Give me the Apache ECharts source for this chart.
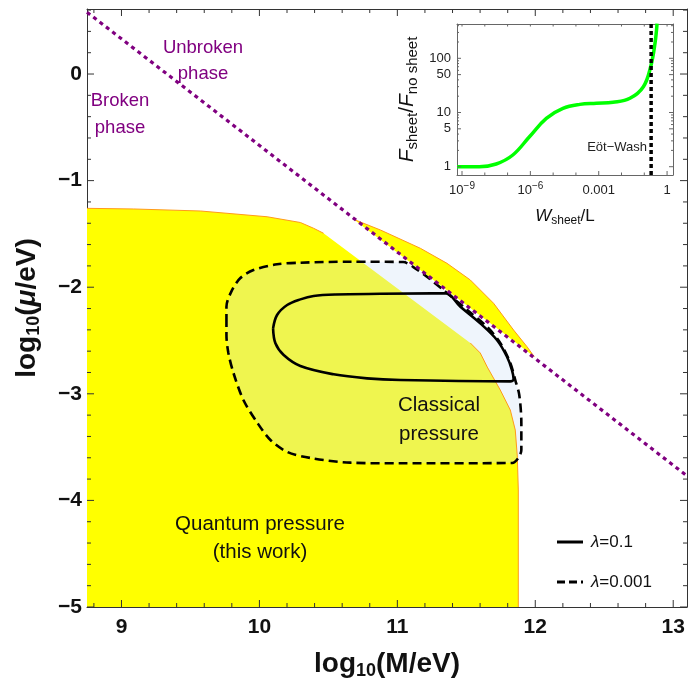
<!DOCTYPE html>
<html><head><meta charset="utf-8">
<script src="https://cdn.jsdelivr.net/npm/echarts@6/dist/echarts.min.js"></script>
<style>html,body{margin:0;padding:0;background:#fff}#c{width:688px;height:685px}</style>
</head><body><div id="c"></div>
<script>
// ---------------- data ----------------
const xTickValues = [9, 10, 11, 12, 13];
const yTickValues = [-5, -4, -3, -2, -1, 0];
const xRange = [8.75, 13.1];
const yRange = [-5, 0.61];

// broken / unbroken phase boundary (purple dotted)
const phaseBoundary = [[8.75, 0.58], [13.1, -3.77]];

// quantum-pressure region (yellow): top edge, then right edge
const quantumTopEdge = [[8.75, -1.260], [9.089, -1.266], [9.572, -1.285], [10.056, -1.339], [10.297, -1.393], [10.393, -1.447], [10.465, -1.494]];
const quantumRightEdge = [[11.529, -2.523], [11.601, -2.617], [11.652, -2.749], [11.746, -2.964], [11.819, -3.152], [11.855, -3.340], [11.870, -3.593], [11.877, -3.902], [11.877, -5.0]];
const quantumCorner = [8.75, -5.0];
// yellow sliver above the phase boundary (outer curve)
const sliverEdge = [[10.683, -1.363], [10.877, -1.463], [11.167, -1.635], [11.360, -1.776], [11.529, -1.932], [11.698, -2.151], [11.843, -2.402], [11.940, -2.558], [11.993, -2.652]];

// lambda = 0.001 contour (dashed)
const contourLambda0001 = [[9.761, -2.336], [9.761, -2.183], [9.802, -2.026], [9.862, -1.914], [9.957, -1.839], [10.128, -1.785], [10.297, -1.770], [10.659, -1.761], [11.043, -1.764], [11.116, -1.811], [11.217, -1.904], [11.333, -2.026], [11.507, -2.214], [11.652, -2.373], [11.746, -2.523], [11.819, -2.711], [11.855, -2.871], [11.884, -3.011], [11.899, -3.274], [11.899, -3.527], [11.877, -3.602], [11.833, -3.649], [11.022, -3.652], [10.659, -3.646], [10.370, -3.602], [10.203, -3.546], [10.080, -3.433], [9.986, -3.274], [9.884, -3.058], [9.812, -2.805], [9.775, -2.617], [9.761, -2.448], [9.761, -2.336]];
// lambda = 0.1 contour (solid)
const contourLambda01 = [[10.099, -2.386], [10.128, -2.261], [10.201, -2.167], [10.297, -2.114], [10.393, -2.082], [10.550, -2.068], [10.877, -2.062], [11.348, -2.057], [11.457, -2.183], [11.601, -2.339], [11.722, -2.495], [11.795, -2.652], [11.831, -2.777], [11.843, -2.864], [11.819, -2.883], [11.022, -2.871], [10.780, -2.855], [10.538, -2.817], [10.297, -2.739], [10.176, -2.636], [10.116, -2.526], [10.099, -2.386]];

// inset: log10(W_sheet/L) and log10(F_sheet/F_no sheet)
const insetLogW = [-9.22, -8.24, -7.50, -6.77, -6.04, -5.30, -4.57, -3.83, -3.10, -2.37, -1.63, -1.04, -0.72, -0.53, -0.44];
const insetLogF = [0.0, 0.0, 0.05, 0.216, 0.553, 0.893, 1.077, 1.15, 1.17, 1.19, 1.262, 1.476, 1.845, 2.277, 2.64];
const eotWashLogW = -0.70;
const insetXRange = [-9.22, 0.26];
const insetYRange = [-0.153, 2.633];
const insetXTickExp = [-9, -6, -3, 0];
const insetXTickText = [['10', '−9'], ['10', '−6'], ['0.001', ''], ['1', '']];
const insetXMinorExp = [-8, -7, -5, -4, -2, -1];
const insetYTickValues = [1, 5, 10, 50, 100];
const insetYMinorValues = [2, 3, 4, 6, 7, 8, 9, 20, 30, 40, 60, 70, 80, 90, 200, 300, 400];

// ---------------- chart ----------------
const FONT = '"Liberation Sans", Arial, Helvetica, sans-serif';
const FRAME = '#333';
const INSET_FRAME = '#666';
const chart = echarts.init(document.getElementById('c'), null, {renderer: 'canvas'});

function minorTicks(lo, hi, step, majors) {
  const out = [];
  for (let v = Math.ceil(lo / step) * step; v <= hi + 1e-9; v += step) {
    const r = Math.round(v * 10) / 10;
    if (r > lo && r < hi && !majors.some(m => Math.abs(m - r) < 1e-6)) out.push(r);
  }
  return out;
}
const xMinor = minorTicks(xRange[0], xRange[1], 0.2, xTickValues);
const yMinor = minorTicks(yRange[0], yRange[1], 0.2, yTickValues);
const insetYTickLog = insetYTickValues.map(Math.log10);
const insetYMinorLog = insetYMinorValues.map(Math.log10).filter(v => v <= insetYRange[1]);

function fmtY(v) { return v < 0 ? '−' + Math.abs(v) : String(v); }

function axis(opts) {
  const a = {
    type: 'value', gridIndex: opts.grid, position: opts.pos,
    min: opts.min, max: opts.max,
    axisLine: {show: true, onZero: false, lineStyle: {color: opts.color || FRAME, width: 1}},
    axisTick: {show: false},
    axisLabel: {show: false},
    splitLine: {show: false},
    axisPointer: {show: false}
  };
  if (opts.label) a.axisLabel = Object.assign({show: true, customValues: opts.ticks}, opts.label);
  if (opts.name) Object.assign(a, opts.name);
  return a;
}

const mainLabel = {fontSize: 21, fontWeight: 'bold', color: '#111', fontFamily: FONT};
const nameRich = {
  b: {fontSize: 28, fontWeight: 'bold', fontFamily: FONT, color: '#111', lineHeight: 32},
  m: {fontSize: 28, fontWeight: 'bold', fontStyle: 'italic', fontFamily: FONT, color: '#111', lineHeight: 32},
  s: {fontSize: 18, fontWeight: 'bold', fontFamily: FONT, color: '#111', lineHeight: 14, verticalAlign: 'bottom'}
};

const xAxes = [
  axis({grid: 0, pos: 'bottom', min: xRange[0], max: xRange[1], ticks: xTickValues,
        label: Object.assign({margin: 10, formatter: v => String(v)}, mainLabel),
        name: {name: '{b|log}{s|10}{b|(M/eV)}', nameLocation: 'middle', nameGap: 41, nameTextStyle: {rich: nameRich}}}),
  axis({grid: 0, pos: 'top', min: xRange[0], max: xRange[1]}),
  axis({grid: 1, pos: 'bottom', min: insetXRange[0], max: insetXRange[1], ticks: insetXTickExp, color: INSET_FRAME,
        label: {margin: 6, color: '#222', fontFamily: FONT, fontSize: 13,
                formatter: v => { const i = insetXTickExp.indexOf(Math.round(v)); const t = insetXTickText[i]; return t[1] ? '{n|' + t[0] + '}{p|' + t[1] + '}' : '{n|' + t[0] + '}'; },
                rich: {n: {fontSize: 13, fontFamily: FONT, color: '#222', lineHeight: 18}, p: {fontSize: 10, fontFamily: FONT, color: '#222', lineHeight: 8, verticalAlign: 'top'}}},
        name: {name: '{i|W}{s|sheet}{n|/L}', nameLocation: 'middle', nameGap: 30,
               nameTextStyle: {rich: {
                 i: {fontSize: 17, fontStyle: 'italic', fontFamily: FONT, color: '#111', lineHeight: 22},
                 n: {fontSize: 17, fontFamily: FONT, color: '#111', lineHeight: 22},
                 s: {fontSize: 12, fontFamily: FONT, color: '#111', lineHeight: 12, verticalAlign: 'bottom'}}}}}),
  axis({grid: 1, pos: 'top', min: insetXRange[0], max: insetXRange[1], color: INSET_FRAME})
];

const yAxes = [
  axis({grid: 0, pos: 'left', min: yRange[0], max: yRange[1], ticks: yTickValues,
        label: Object.assign({margin: 5, formatter: fmtY}, mainLabel),
        name: {name: '{b|log}{s|10}{b|(}{m|μ}{b|/eV)}', nameLocation: 'middle', nameGap: 44, nameRotate: 90, nameTextStyle: {rich: nameRich}}}),
  axis({grid: 0, pos: 'right', min: yRange[0], max: yRange[1]}),
  axis({grid: 1, pos: 'left', min: insetYRange[0], max: insetYRange[1], ticks: insetYTickLog, color: INSET_FRAME,
        label: {margin: 6, color: '#222', fontFamily: FONT, fontSize: 13, formatter: v => String(Math.round(Math.pow(10, v)))},
        name: {name: '{i|F}{s|sheet}{n|/}{i|F}{s|no sheet}', nameLocation: 'middle', nameGap: 37, nameRotate: 90,
               nameTextStyle: {rich: {
                 i: {fontSize: 21, fontStyle: 'italic', fontFamily: FONT, color: '#111', lineHeight: 26},
                 n: {fontSize: 21, fontFamily: FONT, color: '#111', lineHeight: 26},
                 s: {fontSize: 15, fontFamily: FONT, color: '#111', lineHeight: 15, verticalAlign: 'bottom'}}}}}),
  axis({grid: 1, pos: 'right', min: insetYRange[0], max: insetYRange[1], color: INSET_FRAME})
];

function poly(points, fill, z) {
  return {
    type: 'custom', coordinateSystem: 'cartesian2d', xAxisIndex: 0, yAxisIndex: 0, z: z, silent: true, clip: true,
    data: [points[0]],
    renderItem: function (params, api) {
      return {type: 'polygon', shape: {points: points.map(p => api.coord(p))}, style: {fill: fill, stroke: null, lineWidth: 0}};
    }
  };
}
function line(points, style, z, xi, yi, smooth) {
  return {type: 'line', xAxisIndex: xi || 0, yAxisIndex: yi || 0, data: points, showSymbol: false, symbol: 'none',
          smooth: smooth || false, z: z, silent: true, lineStyle: style, animation: false};
}
// inward tick marks drawn through the axis scales
function ticks(values, side, len, xi, yi, xr, yr, color) {
  const horiz = side === 'bottom' || side === 'top';
  return {
    type: 'custom', coordinateSystem: 'cartesian2d', xAxisIndex: xi, yAxisIndex: yi, z: 40, silent: true, clip: false,
    data: values.map(v => horiz ? [v, side === 'bottom' ? yr[0] : yr[1]] : [side === 'left' ? xr[0] : xr[1], v]),
    renderItem: function (params, api) {
      const p = api.coord([api.value(0), api.value(1)]);
      let x2 = p[0], y2 = p[1];
      if (side === 'bottom') y2 -= len; else if (side === 'top') y2 += len; else if (side === 'left') x2 += len; else x2 -= len;
      return {type: 'line', shape: {x1: p[0], y1: p[1], x2: x2, y2: y2}, style: {stroke: color, lineWidth: 1}};
    }
  };
}

const quantumRegion = [quantumCorner].concat(quantumTopEdge, quantumRightEdge);
const ORANGE = '#ff9a1a';
const series = [
  poly(quantumRegion, '#ffff00', 1),
  poly(sliverEdge, '#ffff00', 1),
  poly(contourLambda0001, 'rgba(205,225,245,0.32)', 2),
  line(quantumTopEdge, {color: ORANGE, width: 1}, 3),
  line(quantumRightEdge, {color: ORANGE, width: 1}, 3),
  line(sliverEdge, {color: ORANGE, width: 1}, 3),
  line(contourLambda01, {color: '#000', width: 2.6}, 5, 0, 0, 0.35),
  line(contourLambda0001, {color: '#000', width: 2.6, type: [9, 5]}, 5, 0, 0, 0.3),
  line(phaseBoundary, {color: '#800080', width: 3.2, type: [4, 4]}, 6),
  line(insetLogW.map((w, i) => [w, insetLogF[i]]), {color: '#00ff00', width: 3.5}, 7, 2, 2, 0.4),
  line([[eotWashLogW, insetYRange[0]], [eotWashLogW, insetYRange[1]]], {color: '#000', width: 3.5, type: [4, 3]}, 8, 2, 2),
  // main frame ticks
  ticks(xTickValues, 'bottom', 7, 0, 0, xRange, yRange, FRAME),
  ticks(xMinor, 'bottom', 4, 0, 0, xRange, yRange, FRAME),
  ticks(xTickValues, 'top', 7, 0, 0, xRange, yRange, FRAME),
  ticks(xMinor, 'top', 4, 0, 0, xRange, yRange, FRAME),
  ticks(yTickValues, 'left', 7, 0, 0, xRange, yRange, FRAME),
  ticks(yMinor, 'left', 4, 0, 0, xRange, yRange, FRAME),
  ticks(yTickValues, 'right', 7, 0, 0, xRange, yRange, FRAME),
  ticks(yMinor, 'right', 4, 0, 0, xRange, yRange, FRAME),
  // inset ticks
  ticks(insetXTickExp, 'bottom', 4, 2, 2, insetXRange, insetYRange, INSET_FRAME),
  ticks(insetXMinorExp, 'bottom', 2.5, 2, 2, insetXRange, insetYRange, INSET_FRAME),
  ticks(insetXTickExp.concat(insetXMinorExp), 'top', 2.5, 2, 2, insetXRange, insetYRange, INSET_FRAME),
  ticks(insetYTickLog, 'left', 4, 2, 2, insetXRange, insetYRange, INSET_FRAME),
  ticks(insetYMinorLog, 'left', 2, 2, 2, insetXRange, insetYRange, INSET_FRAME),
  ticks(insetYTickLog, 'right', 4, 2, 2, insetXRange, insetYRange, INSET_FRAME),
  ticks(insetYMinorLog, 'right', 2, 2, 2, insetXRange, insetYRange, INSET_FRAME)
];

const graphic = [
  {type: 'text', x: 203, y: 61, z: 20, style: {text: 'Unbroken\nphase', fill: '#800080', fontSize: 18.5, fontFamily: FONT, align: 'center', verticalAlign: 'middle', lineHeight: 26}},
  {type: 'text', x: 120, y: 114, z: 20, style: {text: 'Broken\nphase', fill: '#800080', fontSize: 18.5, fontFamily: FONT, align: 'center', verticalAlign: 'middle', lineHeight: 27}},
  {type: 'text', x: 439, y: 420, z: 20, style: {text: 'Classical\npressure', fill: '#111', fontSize: 20.5, fontFamily: FONT, align: 'center', verticalAlign: 'middle', lineHeight: 29}},
  {type: 'text', x: 260, y: 538, z: 20, style: {text: 'Quantum pressure\n(this work)', fill: '#111', fontSize: 20.5, fontFamily: FONT, align: 'center', verticalAlign: 'middle', lineHeight: 28}},
  {type: 'line', z: 20, shape: {x1: 557, y1: 542, x2: 583, y2: 542}, style: {stroke: '#000', lineWidth: 3}},
  {type: 'line', z: 20, shape: {x1: 557, y1: 582, x2: 583, y2: 582}, style: {stroke: '#000', lineWidth: 3, lineDash: [8, 4]}},
  {type: 'text', x: 591, y: 542, z: 20, style: {text: '{l|λ}=0.1', fill: '#111', fontSize: 17, fontFamily: FONT, verticalAlign: 'middle', rich: {l: {fontStyle: 'italic', fontSize: 17, fontFamily: FONT, fill: '#111'}}}},
  {type: 'text', x: 591, y: 582, z: 20, style: {text: '{l|λ}=0.001', fill: '#111', fontSize: 17, fontFamily: FONT, verticalAlign: 'middle', rich: {l: {fontStyle: 'italic', fontSize: 17, fontFamily: FONT, fill: '#111'}}}},
  {type: 'text', x: 647, y: 147, z: 20, style: {text: 'Eöt−Wash', fill: '#222', fontSize: 13, fontFamily: FONT, align: 'right', verticalAlign: 'middle'}}
];

chart.setOption({
  animation: false,
  backgroundColor: '#ffffff',
  grid: [
    {left: 87, top: 9, width: 600, height: 598, containLabel: false},
    {left: 457, top: 24, width: 216, height: 151, containLabel: false}
  ],
  xAxis: xAxes,
  yAxis: yAxes,
  series: series,
  graphic: graphic
});
</script>
</body></html>
